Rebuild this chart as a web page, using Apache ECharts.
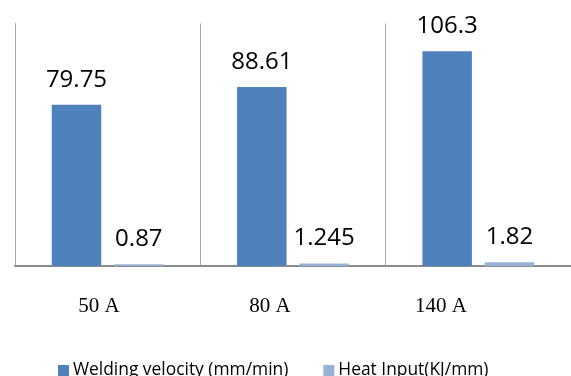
<!DOCTYPE html>
<html><head><meta charset="utf-8">
<script src="https://cdn.jsdelivr.net/npm/echarts@6/dist/echarts.min.js"></script>
<style>html,body{margin:0;padding:0;background:#fff}#c{width:571px;height:376px}</style>
</head><body><div id="c"></div>
<script>
const categories = ['50 A', '80 A', '140 A'];
const velocity = [79.75, 88.61, 106.3];
const heatInput = [0.87, 1.245, 1.82];
const seriesNames = ['Welding velocity (mm/min)', 'Heat Input(KJ/mm)'];

const chart = echarts.init(document.getElementById('c'), null, {renderer: 'canvas'});
const labelStyle = {show: true, position: 'top', distance: 13, color: '#000', fontFamily: 'Open Sans', fontSize: 24};
chart.setOption({
  animation: false,
  legend: {
    data: seriesNames, bottom: -8, left: 53, itemGap: 35, itemWidth: 11, itemHeight: 11,
    icon: 'rect', textStyle: {fontFamily: 'Open Sans', fontSize: 17.4, color: '#000', padding: [0, 0, 0, -1]}
  },
  grid: [
    {left: 15, top: 23.5, width: 561, height: 242.5},
    {left: 13.5, top: 23.5, width: 513, height: 242.5, show: false}
  ],
  xAxis: [
    {type: 'category', data: categories, gridIndex: 0,
     axisLine: {lineStyle: {color: '#8c8c8c', width: 2}}, axisTick: {show: false}, axisLabel: {show: false},
     splitLine: {show: true, lineStyle: {color: '#a6a6a6', width: 1}}},
    {type: 'category', data: categories, gridIndex: 1, position: 'bottom',
     axisLine: {show: false}, axisTick: {show: false}, splitLine: {show: false},
     axisLabel: {margin: 30, fontFamily: 'Liberation Serif', fontSize: 21, color: '#000'}}
  ],
  yAxis: [
    {type: 'value', min: 0, max: 120, gridIndex: 0,
     axisLine: {show: true, lineStyle: {color: '#a6a6a6', width: 1}}, axisTick: {show: false},
     axisLabel: {show: false}, splitLine: {show: false}},
    {type: 'value', min: 0, max: 120, gridIndex: 1, show: false}
  ],
  series: [
    {name: seriesNames[0], type: 'bar', data: velocity, barWidth: 49.5, barGap: '26%',
     itemStyle: {color: '#4f81bd'}, label: labelStyle},
    {name: seriesNames[1], type: 'bar', data: heatInput, barWidth: 49.5, barGap: '26%',
     itemStyle: {color: '#95b3d7'}, label: labelStyle}
  ]
});
</script></body></html>
